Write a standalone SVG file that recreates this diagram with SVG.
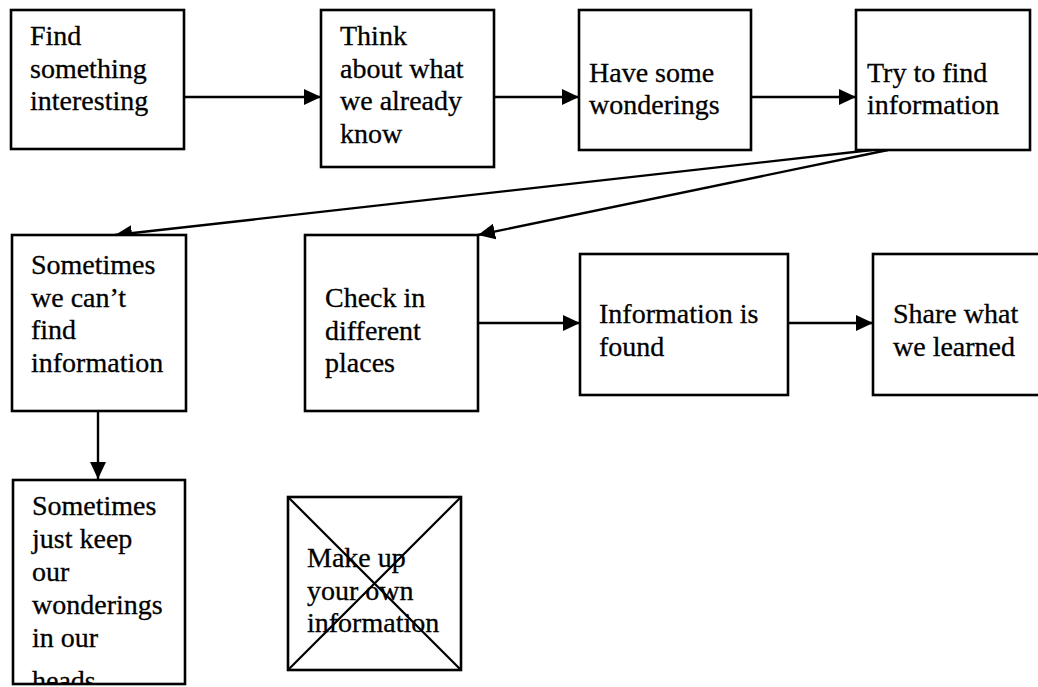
<svg xmlns="http://www.w3.org/2000/svg" width="1038" height="687" viewBox="0 0 1038 687">
<defs>
<style>
.box{fill:#fff;stroke:#000;stroke-width:2.6}
.t{font-family:"Liberation Serif","Times New Roman",serif;font-size:28px;fill:#000;stroke:#000;stroke-width:0.3}
.c{stroke:#000;stroke-width:2.4;fill:none}
.x{stroke:#000;stroke-width:2.2}
</style>
<marker id="ah" markerUnits="userSpaceOnUse" markerWidth="18" markerHeight="16" refX="17" refY="8" orient="auto">
<path d="M0,0 L17,8 L0,16 z" fill="#000"/>
</marker>
<clipPath id="clip9"><rect x="13" y="480" width="172" height="204"/></clipPath>
</defs>
<rect width="1038" height="687" fill="#fff"/>
<g id="connectors">
<line class="c" x1="184" y1="97" x2="321" y2="97" marker-end="url(#ah)"/>
<line class="c" x1="494" y1="97" x2="579" y2="97" marker-end="url(#ah)"/>
<line class="c" x1="751" y1="97" x2="856" y2="97" marker-end="url(#ah)"/>
<line class="c" x1="872" y1="150" x2="115" y2="235" marker-end="url(#ah)"/>
<line class="c" x1="888" y1="150" x2="478" y2="235" marker-end="url(#ah)"/>
<line class="c" x1="478" y1="323" x2="580" y2="323" marker-end="url(#ah)"/>
<line class="c" x1="788" y1="323" x2="873" y2="323" marker-end="url(#ah)"/>
<line class="c" x1="98" y1="411" x2="98" y2="479" marker-end="url(#ah)"/>
</g>
<g id="n1"><rect class="box" x="11" y="10" width="173" height="139"/>
<text class="t" x="30" y="45">Find</text><text class="t" x="30" y="77.5">something</text><text class="t" x="30" y="110">interesting</text></g>
<g id="n2"><rect class="box" x="321" y="10" width="173" height="157"/>
<text class="t" x="340" y="45">Think</text><text class="t" x="340" y="77.5">about what</text><text class="t" x="340" y="110">we already</text><text class="t" x="340" y="142.5">know</text></g>
<g id="n3"><rect class="box" x="579" y="10" width="172" height="140"/>
<text class="t" x="589" y="82">Have some</text><text class="t" x="589" y="114">wonderings</text></g>
<g id="n4"><rect class="box" x="856" y="10" width="174" height="140"/>
<text class="t" x="867" y="82">Try to find</text><text class="t" x="867" y="114">information</text></g>
<g id="n5"><rect class="box" x="12" y="235" width="174" height="176"/>
<text class="t" x="31" y="274">Sometimes</text><text class="t" x="31" y="306.5">we can’t</text><text class="t" x="31" y="339">find</text><text class="t" x="31" y="371.5">information</text></g>
<g id="n6"><rect class="box" x="305" y="235" width="173" height="176"/>
<text class="t" x="325" y="307">Check in</text><text class="t" x="325" y="339.5">different</text><text class="t" x="325" y="372">places</text></g>
<g id="n7"><rect class="box" x="580" y="254" width="208" height="141"/>
<text class="t" x="599" y="323">Information is</text><text class="t" x="599" y="356">found</text></g>
<g id="n8"><rect class="box" x="873" y="254" width="200" height="141"/>
<text class="t" x="893" y="323">Share what</text><text class="t" x="893" y="356">we learned</text></g>
<g id="n9"><rect class="box" x="13" y="480" width="172" height="204"/>
<g clip-path="url(#clip9)"><text class="t" x="32" y="515">Sometimes</text><text class="t" x="32" y="548">just keep</text><text class="t" x="32" y="581">our</text><text class="t" x="32" y="614">wonderings</text><text class="t" x="32" y="647">in our</text><text class="t" x="32" y="690">heads</text></g></g>
<g id="n10"><rect class="box" x="288" y="497" width="173" height="173"/>
<line class="x" x1="288" y1="497" x2="461" y2="670"/><line class="x" x1="461" y1="497" x2="288" y2="670"/>
<text class="t" x="307" y="567">Make up</text><text class="t" x="307" y="600">your own</text><text class="t" x="307" y="632">information</text></g>
</svg>
